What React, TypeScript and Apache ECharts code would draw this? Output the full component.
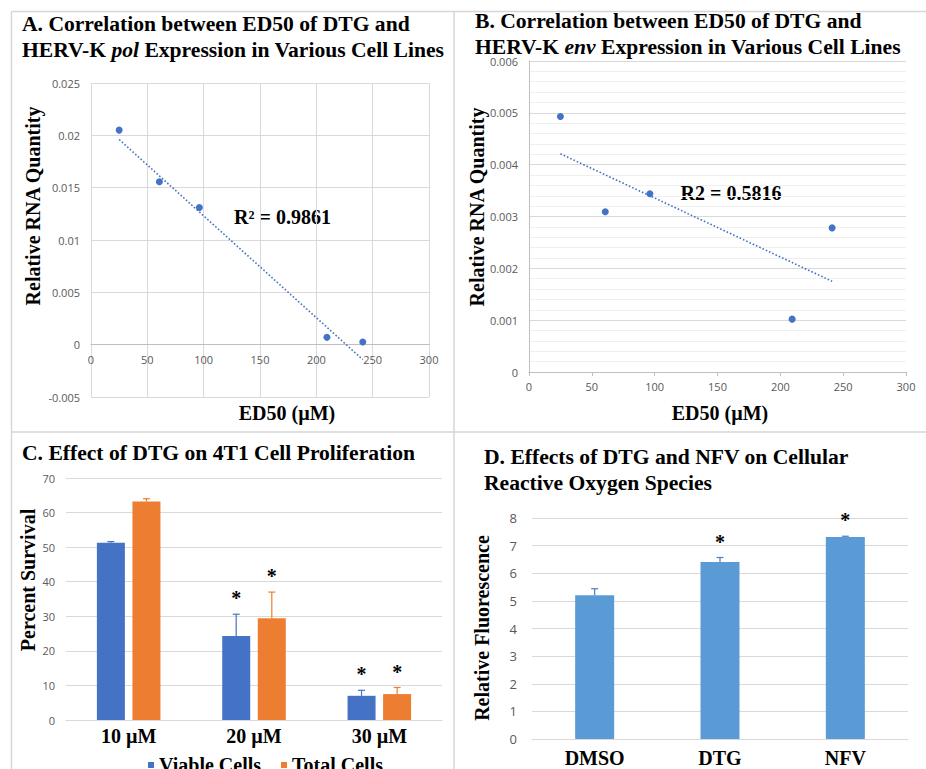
import React, { useEffect, useRef } from "react";
import * as echarts from "echarts";

// ---------- data ----------
const ed50 = [25, 60.7, 96.2, 209.4, 241.2];
const polQty = [0.0205, 0.01557, 0.0131, 0.0007, 0.00025];
const envQty = [0.00493, 0.00309, 0.00344, 0.00102, 0.00278];
const polTrendX = [25, 241.2];
const polTrendY = [0.0196, -0.00143];
const envTrendX = [25, 241.2];
const envTrendY = [0.00421, 0.00175];

const doseLabels = ["10 µM", "20 µM", "30 µM"];
const viable = [51.3, 24.3, 7.0];
const viableErr = [0.3, 6.3, 1.6];
const viableSig = [0, 1, 1];
const total = [63.2, 29.4, 7.5];
const totalErr = [0.8, 7.6, 1.9];
const totalSig = [0, 1, 1];

const treatments = ["DMSO", "DTG", "NFV"];
const fluo = [5.2, 6.41, 7.31];
const fluoErr = [0.24, 0.16, 0.03];
const fluoSig = [0, 1, 1];

// ---------- styles ----------
const SERIF = "'Liberation Serif', 'Times New Roman', serif";
const SANS = "'Open Sans', 'Noto Sans', sans-serif";
const TICK = "#595959";
const GRID = "#d9d9d9";
const BLUE = "#4472C4";
const ORANGE = "#ED7D31";
const LBLUE = "#5B9BD5";

const TITLE_SIZE = 21.6;
const titleRich = {
  b: { fontFamily: SERIF, fontWeight: "bold", fontSize: TITLE_SIZE, lineHeight: 26, color: "#000" },
  i: { fontFamily: SERIF, fontWeight: "bold", fontStyle: "italic", fontSize: TITLE_SIZE, lineHeight: 26, color: "#000" },
};

function errRenderer(offset: number, color: string) {
  return (params: any, api: any) => {
    const i = api.value(0);
    const v = api.value(1);
    const e = api.value(2);
    const s = api.value(3);
    const base = api.coord([i, v]);
    const top = api.coord([i, v + e]);
    const x = base[0] + offset;
    const children: any[] = [
      { type: "line", shape: { x1: x, y1: base[1], x2: x, y2: top[1] }, style: { stroke: color, lineWidth: 1.2 } },
      { type: "line", shape: { x1: x - 3.5, y1: top[1], x2: x + 3.5, y2: top[1] }, style: { stroke: color, lineWidth: 1.2 } },
    ];
    if (s) {
      children.push({
        type: "text",
        style: {
          text: "*",
          x: x,
          y: top[1] - 16,
          align: "center",
          verticalAlign: "middle",
          fontSize: 20,
          fontWeight: "bold",
          fontFamily: SERIF,
          fill: "#000",
        },
      });
    }
    return { type: "group", children };
  };
}

function axisTitle(text: string, x: number, y: number, vertical: boolean) {
  return {
    type: "text",
    x,
    y,
    rotation: vertical ? Math.PI / 2 : 0,
    style: {
      text,
      x: 0,
      y: 0,
      align: "center",
      verticalAlign: "middle",
      font: `bold 20px ${SERIF}`,
      fill: "#000",
    },
  };
}

function frameLine(x1: number, y1: number, x2: number, y2: number) {
  return { type: "line", shape: { x1, y1, x2, y2 }, style: { stroke: "#d6d6d6", lineWidth: 1.5 } };
}

export default function App() {
  const ref = useRef<HTMLDivElement>(null);

  useEffect(() => {
    if (!ref.current) return;
    const chart = echarts.init(ref.current, undefined, { renderer: "svg" });

    const tickLabel = { color: TICK, fontFamily: SANS, fontSize: 11 };
    const gridAHeight = 314;
    const zeroOffsetA = -gridAHeight * (0.005 / 0.03);

    const option: any = {
      animation: false,
      backgroundColor: "#fff",
      title: [
        {
          left: 22, top: 11, padding: 0,
          text: "{b|A. Correlation between ED50 of DTG and}\n{b|HERV-K }{i|pol}{b| Expression in Various Cell Lines}",
          textStyle: { rich: titleRich },
        },
        {
          left: 475, top: 8, padding: 0,
          text: "{b|B. Correlation between ED50 of DTG and}\n{b|HERV-K }{i|env}{b| Expression in Various Cell Lines}",
          textStyle: { rich: titleRich },
        },
        {
          left: 22, top: 440, padding: 0,
          text: "{b|C. Effect of DTG on 4T1 Cell Proliferation}",
          textStyle: { rich: titleRich },
        },
        {
          left: 484, top: 444, padding: 0,
          text: "{b|D. Effects of DTG and NFV on Cellular}\n{b|Reactive Oxygen Species}",
          textStyle: { rich: titleRich },
        },
      ],
      legend: {
        data: ["Viable Cells", "Total Cells"],
        left: 143,
        top: 750,
        itemWidth: 6,
        itemHeight: 6,
        itemGap: 20,
        icon: "rect",
        textStyle: { fontFamily: SERIF, fontWeight: "bold", fontSize: 20, color: "#000" },
      },
      grid: [
        { left: 91, top: 83, width: 338, height: gridAHeight },
        { left: 529, top: 61, width: 377, height: 311 },
        { left: 66, top: 478, width: 376, height: 242 },
        { left: 532, top: 518, width: 376, height: 221 },
      ],
      xAxis: [
        {
          gridIndex: 0, type: "value", min: 0, max: 300, interval: 50,
          position: "bottom", offset: zeroOffsetA,
          axisLine: { show: true, onZero: false, lineStyle: { color: "#bfbfbf" } },
          axisTick: { show: false },
          axisLabel: { ...tickLabel, margin: 9 },
          splitLine: { show: true, lineStyle: { color: GRID } },
        },
        {
          gridIndex: 1, type: "value", min: 0, max: 300, interval: 50,
          axisLine: { show: true, lineStyle: { color: "#bfbfbf" } },
          axisTick: { show: true, length: 4, lineStyle: { color: "#bfbfbf" } },
          axisLabel: { ...tickLabel, margin: 9 },
          splitLine: { show: false },
        },
        {
          gridIndex: 2, type: "category", data: doseLabels,
          axisLine: { show: true, lineStyle: { color: GRID } },
          axisTick: { show: false },
          axisLabel: { fontFamily: SERIF, fontWeight: "bold", fontSize: 20, color: "#000", margin: 6 },
        },
        {
          gridIndex: 3, type: "category", data: treatments,
          axisLine: { show: true, lineStyle: { color: GRID } },
          axisTick: { show: false },
          axisLabel: { fontFamily: SERIF, fontWeight: "bold", fontSize: 20, color: "#000", margin: 9 },
        },
      ],
      yAxis: [
        {
          gridIndex: 0, type: "value", min: -0.005, max: 0.025, interval: 0.005,
          axisLine: { show: false }, axisTick: { show: false },
          axisLabel: { ...tickLabel, margin: 11 },
          splitLine: { show: true, lineStyle: { color: GRID } },
        },
        {
          gridIndex: 1, type: "value", min: 0, max: 0.006, interval: 0.001,
          axisLine: { show: true, lineStyle: { color: "#bfbfbf" } },
          axisTick: { show: false },
          axisLabel: { ...tickLabel, margin: 11 },
          splitLine: { show: true, lineStyle: { color: GRID } },
          minorTick: { show: false, splitNumber: 5 },
          minorSplitLine: { show: true, lineStyle: { color: "#efefef" } },
        },
        {
          gridIndex: 2, type: "value", min: 0, max: 70, interval: 10,
          axisLine: { show: false }, axisTick: { show: false },
          axisLabel: { ...tickLabel, margin: 11 },
          splitLine: { show: true, lineStyle: { color: GRID } },
        },
        {
          gridIndex: 3, type: "value", min: 0, max: 8, interval: 1,
          axisLine: { show: false }, axisTick: { show: false },
          axisLabel: { ...tickLabel, fontSize: 13, margin: 15 },
          splitLine: { show: true, lineStyle: { color: GRID } },
        },
      ],
      series: [
        {
          type: "scatter", xAxisIndex: 0, yAxisIndex: 0, symbolSize: 7,
          itemStyle: { color: BLUE, opacity: 1 },
          data: ed50.map((x, i) => [x, polQty[i]]),
        },
        {
          type: "line", xAxisIndex: 0, yAxisIndex: 0, symbol: "none",
          lineStyle: { color: BLUE, width: 1.6, type: [1.6, 2] },
          data: polTrendX.map((x, i) => [x, polTrendY[i]]),
        },
        {
          type: "scatter", xAxisIndex: 1, yAxisIndex: 1, symbolSize: 7,
          itemStyle: { color: BLUE, opacity: 1 },
          data: ed50.map((x, i) => [x, envQty[i]]),
        },
        {
          type: "line", xAxisIndex: 1, yAxisIndex: 1, symbol: "none",
          lineStyle: { color: BLUE, width: 1.6, type: [1.6, 2] },
          data: envTrendX.map((x, i) => [x, envTrendY[i]]),
        },
        {
          name: "Viable Cells", type: "bar", xAxisIndex: 2, yAxisIndex: 2,
          barWidth: 28, barGap: "27%", itemStyle: { color: BLUE },
          data: viable,
        },
        {
          name: "Total Cells", type: "bar", xAxisIndex: 2, yAxisIndex: 2,
          barWidth: 28, barGap: "27%", itemStyle: { color: ORANGE },
          data: total,
        },
        {
          type: "custom", xAxisIndex: 2, yAxisIndex: 2, z: 5,
          renderItem: errRenderer(-17.8, BLUE),
          data: viable.map((v, i) => [i, v, viableErr[i], viableSig[i]]),
        },
        {
          type: "custom", xAxisIndex: 2, yAxisIndex: 2, z: 5,
          renderItem: errRenderer(17.8, ORANGE),
          data: total.map((v, i) => [i, v, totalErr[i], totalSig[i]]),
        },
        {
          type: "bar", xAxisIndex: 3, yAxisIndex: 3, barWidth: 39,
          itemStyle: { color: LBLUE },
          data: fluo,
        },
        {
          type: "custom", xAxisIndex: 3, yAxisIndex: 3, z: 5,
          renderItem: errRenderer(0, "#4a7ebb"),
          data: fluo.map((v, i) => [i, v, fluoErr[i], fluoSig[i]]),
        },
      ],
      graphic: [
        frameLine(11.5, 11.5, 926, 11.5),
        frameLine(11.5, 11.5, 11.5, 769),
        frameLine(454, 11.5, 454, 769),
        frameLine(11.5, 432, 926, 432),
        axisTitle("Relative RNA Quantity", 33, 206, true),
        axisTitle("ED50 (µM)", 287, 413, false),
        axisTitle("Relative RNA Quantity", 477, 207, true),
        axisTitle("ED50 (µM)", 720, 413, false),
        axisTitle("Percent Survival", 28, 580, true),
        axisTitle("Relative Fluorescence", 482, 628, true),
        axisTitle("R² = 0.9861", 282.5, 217, false),
        axisTitle("R2 = 0.5816", 731, 193, false),
      ],
    };

    chart.setOption(option);
    return () => chart.dispose();
  }, []);

  return (
    <div
      ref={ref}
      style={{ position: "absolute", left: 0, top: 0, width: 926, height: 769, background: "#fff" }}
    />
  );
}
